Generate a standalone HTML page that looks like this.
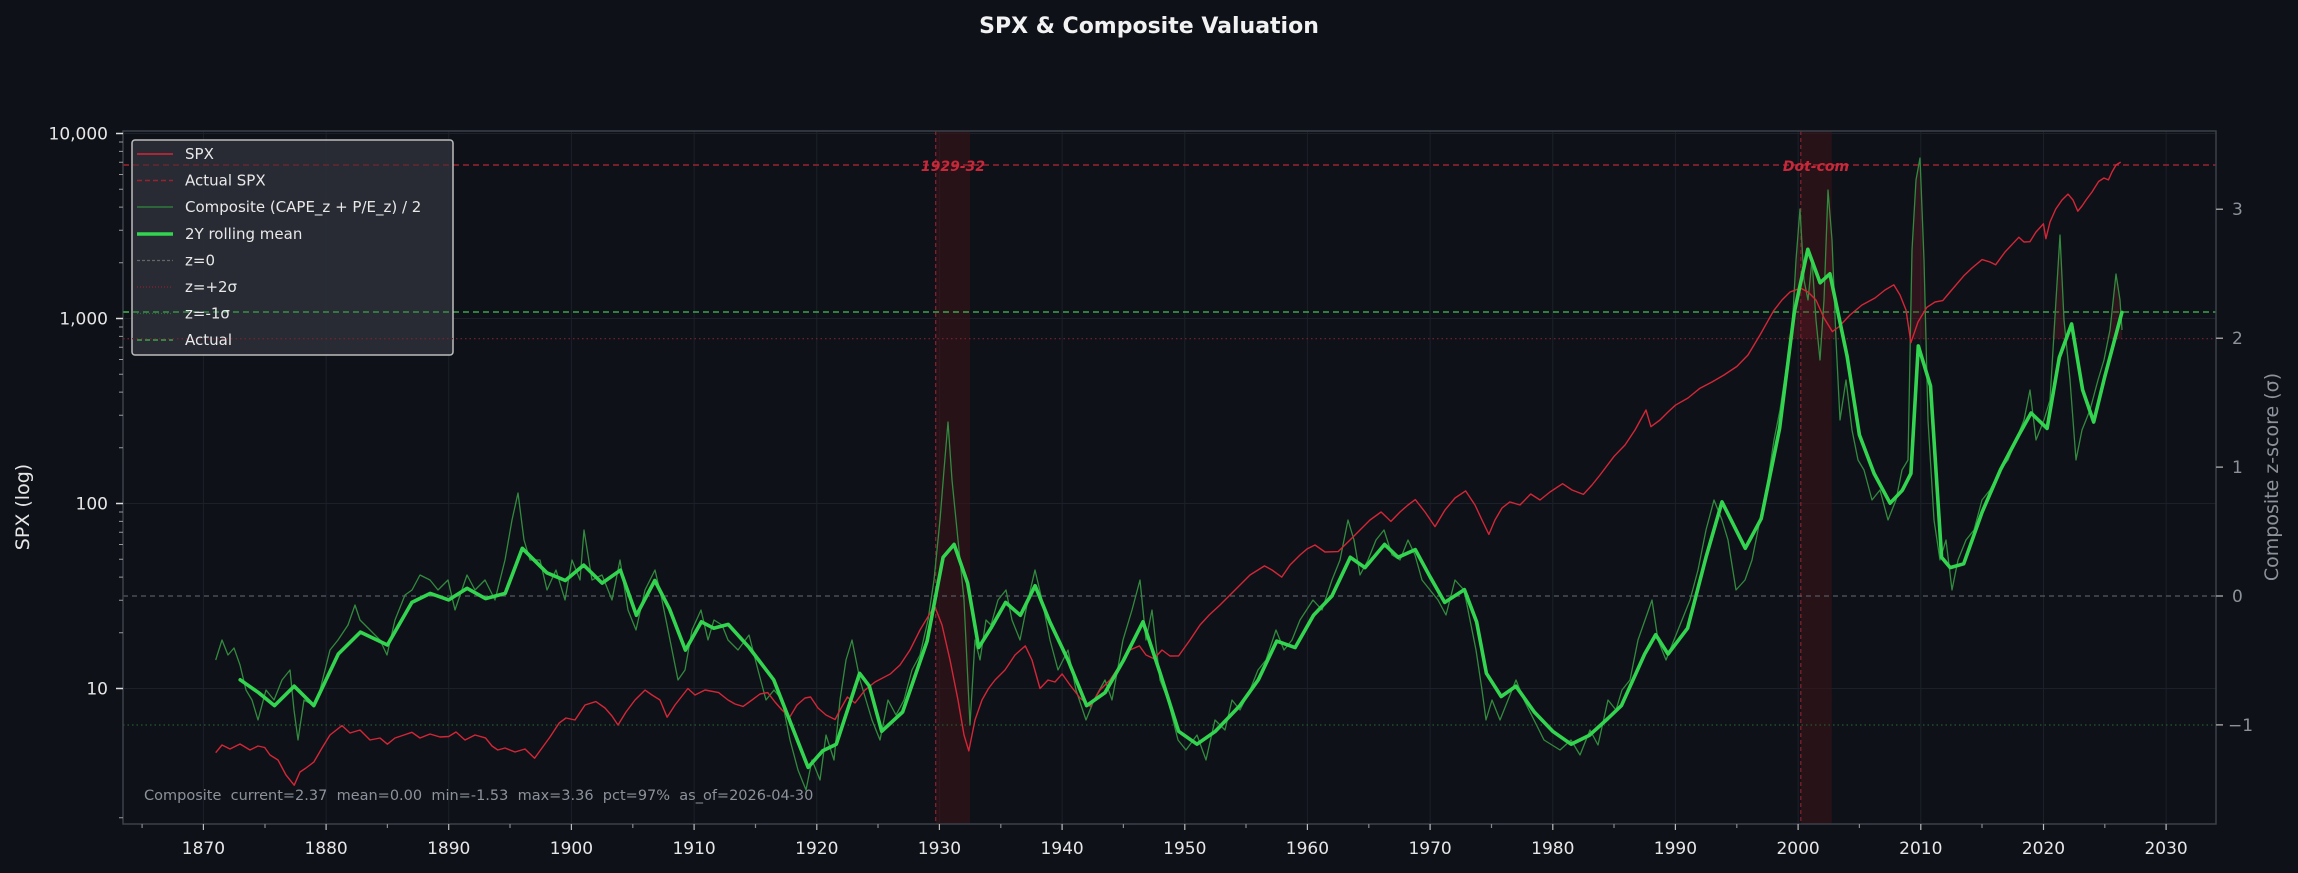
<!DOCTYPE html>
<html><head><meta charset="utf-8"><style>
html,body{margin:0;padding:0;background:#0e1118;}
svg{display:block;font-family:"DejaVu Sans","Liberation Sans",sans-serif;}
</style></head><body>
<svg width="2298" height="873" viewBox="0 0 2298 873" xmlns="http://www.w3.org/2000/svg">
<rect width="2298" height="873" fill="#0e1118"/>
<text x="1149" y="33" fill="#f2f2f2" font-size="22" font-weight="bold" text-anchor="middle">SPX &amp; Composite Valuation</text>
<defs><clipPath id="c"><rect x="123" y="131" width="2093" height="693"/></clipPath></defs>
<g stroke="#1c2028" stroke-width="1">
<path d="M203.4 131V824M326.1 131V824M448.7 131V824M571.4 131V824M694.1 131V824M816.8 131V824M939.4 131V824M1062.1 131V824M1184.8 131V824M1307.4 131V824M1430.1 131V824M1552.8 131V824M1675.4 131V824M1798.1 131V824M1920.8 131V824M2043.5 131V824M2166.1 131V824"/>
<path d="M123 133.5H2216M123 318.5H2216M123 503.5H2216M123 688.5H2216"/>
</g>
<g clip-path="url(#c)">
<rect x="935.7" y="131" width="34.3" height="693" fill="#3a1418" opacity="0.55"/>
<rect x="1800.8" y="131" width="31" height="693" fill="#3a1418" opacity="0.55"/>
<line x1="935.7" y1="131" x2="935.7" y2="824" stroke="#8a2230" stroke-width="1.2" stroke-dasharray="4,3"/>
<line x1="1800.8" y1="131" x2="1800.8" y2="824" stroke="#8a2230" stroke-width="1.2" stroke-dasharray="4,3"/>
<line x1="123" y1="165" x2="2216" y2="165" stroke="#9a2230" stroke-width="1.5" stroke-dasharray="6,4"/>
<line x1="123" y1="596" x2="2216" y2="596" stroke="#555a62" stroke-width="1.2" stroke-dasharray="5,4"/>
<line x1="123" y1="338.7" x2="2216" y2="338.7" stroke="#7a2230" stroke-width="1.2" stroke-dasharray="1.5,3"/>
<line x1="123" y1="725" x2="2216" y2="725" stroke="#245a2e" stroke-width="1.2" stroke-dasharray="1.5,3"/>
<line x1="123" y1="312" x2="2216" y2="312" stroke="#3aa64a" stroke-width="1.5" stroke-dasharray="6,4"/>
<g fill="#6a1a24" opacity="0.35">
<polygon points="1786,338.7 1792,330 1796,260 1800,209 1804,280 1808,300 1812,260 1816,320 1818,338.7"/>
<polygon points="1822,338.7 1824,300 1828,190 1832,240 1835,338.7"/>
<polygon points="1909,338.7 1912,250 1916,180 1920,158 1924,260 1926,338.7"/>
<polygon points="2052,338.7 2056,300 2060,235 2064,320 2066,338.7"/>
<polygon points="2106,338.7 2110,330 2116,274 2120,300 2122,330 2122,338.7"/>
</g>
<polyline fill="none" stroke="#328a3e" stroke-width="1.3" stroke-linejoin="round" points="215.7,660 222,640 228,655 234,648 240,665 246,690 252,700 258,720 262,705 266,690 274,700 282,680 290,670 294,710 298,740 304,700 313,705 320,690 330,650 338,640 348,625 355,605 360,620 370,630 380,640 387,655 395,620 405,595 412,590 420,575 430,580 438,590 448,580 455,610 467,575 475,590 485,580 495,600 505,560 512,520 518,493 524,540 530,560 540,560 547,590 556,570 565,600 572,560 580,580 584,530 592,580 602,575 612,600 620,560 628,610 636,630 645,590 655,570 662,600 670,640 678,680 685,670 692,630 701,610 708,640 714,620 722,625 728,640 738,650 749,635 758,670 766,700 774,690 782,700 790,740 798,770 806,790 812,760 820,780 826,735 834,760 840,700 846,660 852,640 860,680 866,700 872,720 880,740 888,700 896,715 904,700 912,670 920,655 928,620 934,580 940,520 944,470 948,422 952,480 958,540 964,600 970,725 975,640 980,660 986,620 991,625 998,600 1006,590 1012,620 1020,640 1028,600 1035,570 1042,600 1050,640 1058,670 1068,650 1076,690 1086,720 1094,700 1105,680 1112,700 1123,640 1132,610 1140,580 1146,640 1152,610 1160,680 1168,700 1178,740 1186,750 1197,735 1206,760 1215,720 1225,730 1232,700 1240,710 1250,690 1258,670 1266,660 1276,630 1284,650 1292,640 1300,620 1313,600 1322,610 1332,580 1340,560 1348,520 1354,540 1360,575 1368,560 1376,540 1384,530 1392,555 1400,560 1408,540 1415,555 1422,580 1430,590 1438,600 1446,615 1455,580 1464,590 1470,620 1476,650 1482,690 1486,720 1492,700 1500,720 1508,700 1516,680 1524,700 1534,720 1544,740 1552,745 1560,750 1571,740 1580,755 1590,730 1598,745 1608,700 1616,710 1622,690 1630,680 1638,640 1645,620 1652,600 1658,640 1666,660 1674,640 1682,620 1690,600 1698,570 1706,530 1714,500 1722,520 1728,540 1736,590 1745,580 1752,560 1760,520 1768,480 1774,440 1780,410 1786,370 1792,330 1796,260 1800,209 1804,280 1808,300 1812,260 1816,320 1820,360 1824,300 1828,190 1832,240 1836,340 1840,420 1846,380 1852,430 1858,460 1864,470 1872,500 1880,490 1888,520 1896,500 1902,470 1908,460 1912,250 1916,180 1920,158 1924,260 1928,420 1934,520 1940,560 1946,540 1952,590 1958,560 1966,540 1974,530 1982,500 1990,490 2000,470 2008,460 2016,440 2024,420 2030,390 2036,440 2044,420 2050,400 2056,300 2060,235 2064,320 2070,380 2076,460 2082,430 2090,410 2098,380 2104,360 2110,330 2116,274 2120,300 2122,330"/>
<polyline fill="none" stroke="#d42637" stroke-width="1.4" stroke-linejoin="round" points="215.7,752.7 222,745 230,749 240,744 250,750 258,746 264.7,747.5 270,755 278,760 286,775 294.2,785.2 300,772 306,768 313.8,762.1 322,748 330,735 342,725.6 350,733 360,730 370,740 380,738 387.4,744.2 395,738 404,735 411.9,732.3 420,738 430,734 440,737 448.7,736.5 456,732 465,740 475,735 485.5,737.9 492,746 497.8,750 505,748 515,752 525,749 534.6,758.2 542,748 550,737 559.1,723.1 566,718 575,720 585,705 595.9,701.6 605,708 612,716 618,725 626,712 635,700 645,690.1 652,695 660,700 667.1,717.2 675,705 687.9,688.5 695,695 705,690 718.6,692.6 728,700 735,704 743.1,706.4 752,700 760,694 767.7,692.6 775,702 782,710 789.7,717.2 797,705 805,698 810.6,697 818,708 826,715 835.1,719.5 840,710 847.4,697 855,703 865,690 875,682 890.4,673.9 900,665 910,650 920,630 934.5,605.8 942,625 950,660 958,700 964,735 968.8,750.9 975,720 982,700 988.5,688.5 995,680 1005,670 1015,655 1025.3,645.9 1032,660 1040,688.5 1048,680 1055,682 1062.1,673.9 1070,685 1080,698 1090.3,706.4 1100,690 1110,680 1120,665 1130,650 1139.4,645.9 1146,655 1154.1,658.7 1162,650 1170,656 1178.6,655.9 1190,640 1200,625 1209.3,614.9 1220,605 1230,595 1240,585 1250,575 1264.5,565.9 1272,570 1281.7,577.1 1290,565 1300,555 1307.4,548.7 1315,545 1325,552 1338.1,551.6 1350,540 1360,530 1370,520 1381.1,512 1390.9,521.4 1400,512 1408,505 1415.3,499.6 1425,512 1435,526.6 1445,510 1455,498 1465.6,490.9 1475,505 1482,520 1488.9,534.4 1495,520 1502,508 1509.8,501.9 1520,505 1530.7,494 1540,500 1550,492 1562.6,483.7 1572,490 1583.4,494.4 1592,485 1600,475 1614.1,456.3 1625,445 1635,430 1646,410 1650.9,426.7 1660,420 1668,412 1675.4,405.2 1688,398 1700,388.2 1712,382 1724,375 1736.8,366.5 1748,355 1760,335 1773.6,310.8 1782,300 1790,292 1800.5,288.1 1808,292 1816,300 1824,318 1832.4,331.6 1838.6,327 1850,315 1862,305 1875,298 1885,290 1893.8,284.8 1900,295 1906,310 1910.9,342.7 1918,322 1926.9,307.3 1935,302 1942.8,300.6 1950,292 1963.7,275.9 1972,268 1982.1,259.6 1990,262 1995.6,264.8 2005,252 2018.9,237.2 2024,242 2029.9,241.7 2036,232 2043.4,223.8 2045.9,238.7 2050,222 2055.7,209.1 2062,200 2068,194.1 2073,200 2077.8,211.2 2082,206 2086.4,199.5 2092,192 2098.6,181.5 2104,178 2108.4,179.9 2112,172 2116,165 2120.7,162.1"/>
<polyline fill="none" stroke="#33d44f" stroke-width="3.6" stroke-linejoin="round" stroke-linecap="round" points="240.2,679.8 258.6,692.7 274.5,705.6 294.2,686.2 313.8,705.6 338.3,654 360.4,632.1 387.4,645 411.9,602.4 430.3,593.4 448.7,599.9 467.1,588.3 485.5,598.6 505.2,593.4 522.3,548.3 546.9,572.8 565.3,580.5 583.7,565.1 602.1,583.1 620.4,570.2 636.4,615.3 654.8,580.5 669.5,608.9 685.4,650.1 701.4,621.8 713.6,628.2 728.3,624.4 749.2,647.6 773.7,679.8 808.1,767.4 822.8,750.7 836.3,744.2 859.6,673.3 869.4,686.2 881.7,731.3 902.6,712 927.1,641.1 943.1,557.3 954.1,544.4 967.6,583.1 978.7,647.6 990.9,628.2 1005.6,602.4 1020.4,615.3 1035.1,585.7 1049.8,621.8 1068.2,660.5 1086.6,705.6 1105,692.7 1123.4,660.5 1143,621.8 1160.2,673.3 1178.6,731.3 1197,744.2 1215.4,731.3 1239.9,705.6 1258.3,679.8 1276.7,641.1 1295.1,647.6 1313.5,615.3 1331.9,596 1350.3,557.3 1365,567.6 1384.6,544.4 1398.1,557.3 1415.3,549.6 1430,576.7 1444.7,602.4 1464.4,589.6 1476.6,621.8 1486.4,673.3 1501.2,696.5 1515.9,686.2 1534.3,712 1552.7,731.3 1571.1,744.2 1589.5,735.2 1607.9,718.5 1621.4,705.6 1644.7,654 1655.7,634.7 1668,654 1687.6,628.2 1706,557.3 1722,501.9 1745.3,548.3 1761.2,518.7 1779.6,428.4 1794.3,312.4 1807.8,249.3 1820.1,282.8 1829.9,273.8 1847.1,356.2 1859.4,434.9 1874.1,473.5 1890.1,503.2 1902.3,490.3 1910.9,473.5 1918.3,345.9 1930.5,385.9 1941.6,557.3 1950.2,567.6 1963.7,563.8 1982.1,512.2 2000.5,469.7 2018.9,434.9 2031.1,413 2047.1,428.4 2059.3,357.5 2071.6,324 2082.6,389.8 2093.7,422 2104.7,376.9 2121.9,312.4"/>
</g>
<rect x="123" y="131" width="2093" height="693" fill="none" stroke="#3b4049" stroke-width="1.5"/>
<g stroke="#bbb" stroke-width="1.2">
<path d="M203.4 824v6M326.1 824v6M448.7 824v6M571.4 824v6M694.1 824v6M816.8 824v6M939.4 824v6M1062.1 824v6M1184.8 824v6M1307.4 824v6M1430.1 824v6M1552.8 824v6M1675.4 824v6M1798.1 824v6M1920.8 824v6M2043.5 824v6M2166.1 824v6"/>
<path stroke="#888" d="M142.1 824v4M265 824v4M387.4 824v4M510 824v4M632.8 824v4M755.5 824v4M878 824v4M1000.8 824v4M1123.4 824v4M1246 824v4M1368.8 824v4M1491.5 824v4M1614 824v4M1736.8 824v4M1859.4 824v4M1982 824v4M2104.8 824v4"/>
</g>
<g fill="#e6e6e6" font-size="17" text-anchor="middle">
<text x="203.4" y="854">1870</text><text x="326.1" y="854">1880</text><text x="448.7" y="854">1890</text><text x="571.4" y="854">1900</text><text x="694.1" y="854">1910</text><text x="816.8" y="854">1920</text><text x="939.4" y="854">1930</text><text x="1062.1" y="854">1940</text><text x="1184.8" y="854">1950</text><text x="1307.4" y="854">1960</text><text x="1430.1" y="854">1970</text><text x="1552.8" y="854">1980</text><text x="1675.4" y="854">1990</text><text x="1798.1" y="854">2000</text><text x="1920.8" y="854">2010</text><text x="2043.5" y="854">2020</text><text x="2166.1" y="854">2030</text>
</g>
<g stroke="#ddd" stroke-width="1.5"><path d="M116 133.5H123M116 318.5H123M116 503.5H123M116 688.5H123"/></g>
<g stroke="#999" stroke-width="1"><path d="M119 817.8h4M119 632.8h4M119 600.2h4M119 577.1h4M119 559.2h4M119 544.5h4M119 532.2h4M119 521.4h4M119 512h4M119 447.8h4M119 415.2h4M119 392.1h4M119 374.2h4M119 359.5h4M119 347.2h4M119 336.4h4M119 327h4M119 262.8h4M119 230.2h4M119 207.1h4M119 189.2h4M119 174.5h4M119 162.2h4M119 151.4h4M119 142h4"/></g>
<g fill="#e6e6e6" font-size="17" text-anchor="end">
<text x="108" y="139.5">10,000</text><text x="108" y="324.5">1,000</text><text x="108" y="509.5">100</text><text x="108" y="694.5">10</text>
</g>
<g stroke="#999" stroke-width="1.5"><path d="M2216 209.3h7M2216 338.2h7M2216 467.1h7M2216 596h7M2216 724.9h7"/></g>
<g fill="#8d929a" font-size="17">
<text x="2232" y="215">3</text><text x="2232" y="344">2</text><text x="2232" y="473">1</text><text x="2232" y="602">0</text><text x="2228" y="731">−1</text>
</g>
<text x="29" y="507" fill="#e6e6e6" font-size="19" text-anchor="middle" transform="rotate(-90 29 507)">SPX (log)</text>
<text x="2278" y="477" fill="#8d929a" font-size="19" text-anchor="middle" transform="rotate(-90 2278 477)">Composite z-score (σ)</text>
<text x="144" y="800" fill="#8d929a" font-size="14.5" xml:space="preserve">Composite  current=2.37  mean=0.00  min=-1.53  max=3.36  pct=97%  as_of=2026-04-30</text>
<text x="953" y="171" fill="#c8283a" font-size="14" font-weight="bold" font-style="italic" text-anchor="middle">1929-32</text>
<text x="1816" y="171" fill="#c8283a" font-size="14" font-weight="bold" font-style="italic" text-anchor="middle">Dot-com</text>
<g>
<rect x="132" y="140" width="321" height="215" rx="3" fill="#2a2e36" fill-opacity="0.92" stroke="#bdbdbd" stroke-width="1.5"/>
<line x1="137" y1="154" x2="173" y2="154" stroke="#d42637" stroke-width="1.5"/>
<line x1="137" y1="180.5" x2="173" y2="180.5" stroke="#9a2230" stroke-width="1.5" stroke-dasharray="5,3"/>
<line x1="137" y1="207" x2="173" y2="207" stroke="#2f7a3a" stroke-width="1.5"/>
<line x1="137" y1="234" x2="173" y2="234" stroke="#33d44f" stroke-width="3.5"/>
<line x1="137" y1="260.5" x2="173" y2="260.5" stroke="#666" stroke-width="1.2" stroke-dasharray="3,2"/>
<line x1="137" y1="287" x2="173" y2="287" stroke="#8a2230" stroke-width="1.2" stroke-dasharray="1,2"/>
<line x1="137" y1="313.5" x2="173" y2="313.5" stroke="#2a6a35" stroke-width="1.2" stroke-dasharray="1,2"/>
<line x1="137" y1="340" x2="173" y2="340" stroke="#3aa64a" stroke-width="1.5" stroke-dasharray="5,3"/>
<line x1="123" y1="312" x2="453" y2="312" stroke="#3aa64a" stroke-width="1.5" stroke-dasharray="6,4" opacity="0.8"/>
<line x1="123" y1="338.7" x2="453" y2="338.7" stroke="#7a2230" stroke-width="1.2" stroke-dasharray="1.5,3"/>
<line x1="123" y1="165" x2="453" y2="165" stroke="#9a2230" stroke-width="1.5" stroke-dasharray="6,4" opacity="0.5"/>
<g fill="#e8e8e8" font-size="15">
<text x="185" y="159">SPX</text><text x="185" y="185.5">Actual SPX</text>
<text x="185" y="212">Composite (CAPE_z + P/E_z) / 2</text><text x="185" y="239">2Y rolling mean</text>
<text x="185" y="265.5">z=0</text><text x="185" y="292">z=+2σ</text>
<text x="185" y="318.5">z=-1σ</text><text x="185" y="345">Actual</text></g>
</g>
</svg>
</body></html>
